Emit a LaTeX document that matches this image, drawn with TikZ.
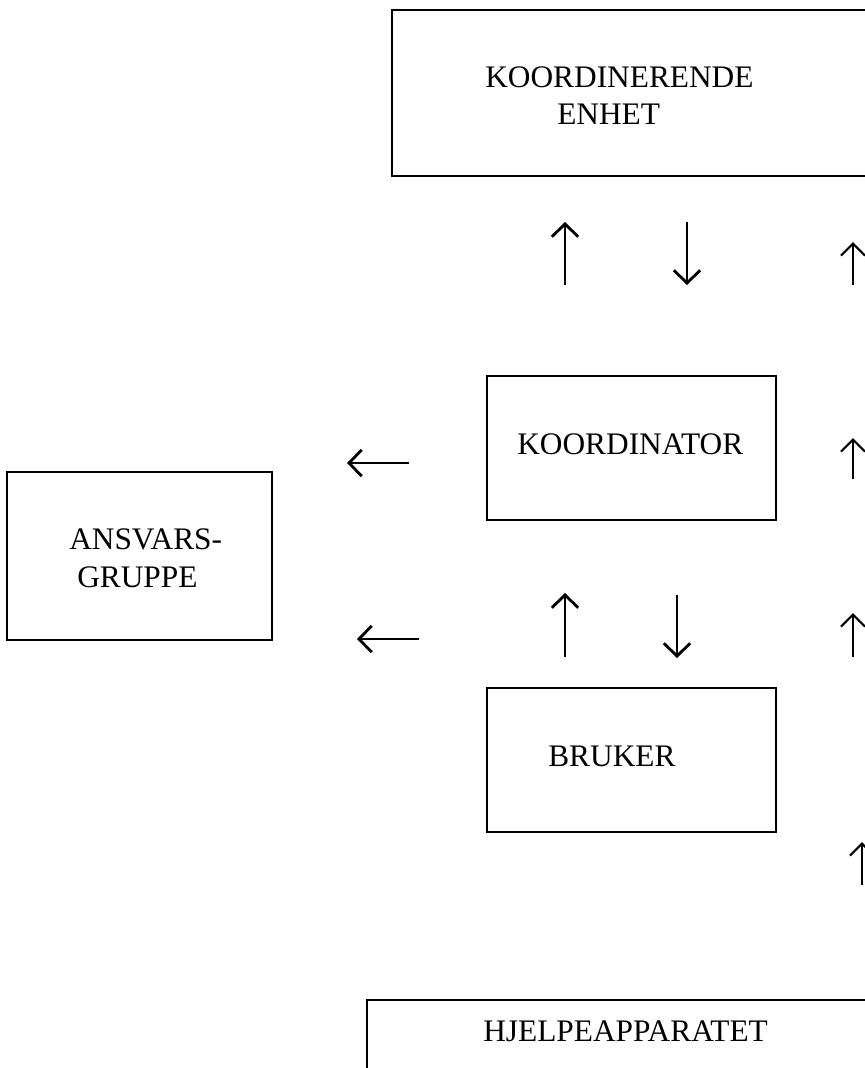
\documentclass[tikz,border=0pt]{standalone}
\usepackage{fontspec}
\setmainfont{Liberation Serif}
\usetikzlibrary{arrows.meta,fit}

\tikzset{
  boks/.style={draw, line width=1.4pt, inner sep=0pt},
  tekst/.style={anchor=base west, inner sep=0pt, font=\fontsize{22.3}{26.3}\selectfont},
  pil/.style={line width=2pt, -{Straight Barb[length=3.2mm, width=6.6mm, line width=2pt]}},
  smalpil/.style={line width=1.6pt, -{Straight Barb[length=3mm, width=6mm, line width=1.6pt]}}
}

\begin{document}
\begin{tikzpicture}[x=0.025cm, y=-0.025cm]
  \useasboundingbox (0,0) rectangle (865,1068);
  \clip (0,0) rectangle (865,1068);

  % bokser
  \node[boks, fit={(392,10) (900,176)}] (enhet) {};
  \node[boks, fit={(487,376) (776,520)}] (koordinator) {};
  \node[boks, fit={(7,472) (272,640)}] (ansvar) {};
  \node[boks, fit={(487,688) (776,832)}] (bruker) {};
  \node[boks, fit={(367,1000) (900,1100)}] (hjelp) {};

  % tekster
  \node[tekst] (enhet1) at (485,87) {KOORDINERENDE};
  \node[tekst] (enhet2) at (557,124) {ENHET};
  \node[tekst] (koordtxt) at (517,454) {KOORDINATOR};
  \node[tekst] (ansvar1) at (69,549) {ANSVARS-};
  \node[tekst] (ansvar2) at (77,587) {GRUPPE};
  \node[tekst] (brukertxt) at (548,766) {BRUKER};
  \node[tekst] (hjelptxt) at (483,1041) {HJELPEAPPARATET};

  % endepunkter for pilene
  \foreach \navn/\x/\y in {
      oa/565/285, ob/565/222, oc/687/222, od/687/285, oe/853/285, of/853/242,
      ma/409/463, mb/347/463, mc/853/479, md/853/438,
      na/419/639, nb/357/639, nc/565/657, nd/565/593, ne/677/595, nf/677/658,
      ng/853/657, nh/853/613, ua/862/885, ub/862/842} {
    \coordinate (\navn) at (\x,\y);
  }

  \draw[pil] (oa) -- (ob);
  \draw[pil] (oc) -- (od);
  \draw[smalpil] (oe) -- (of);

  \draw[pil] (ma) -- (mb);
  \draw[smalpil] (mc) -- (md);

  \draw[pil] (na) -- (nb);
  \draw[pil] (nc) -- (nd);
  \draw[pil] (ne) -- (nf);
  \draw[smalpil] (ng) -- (nh);

  \draw[smalpil] (ua) -- (ub);

\end{tikzpicture}
\end{document}
